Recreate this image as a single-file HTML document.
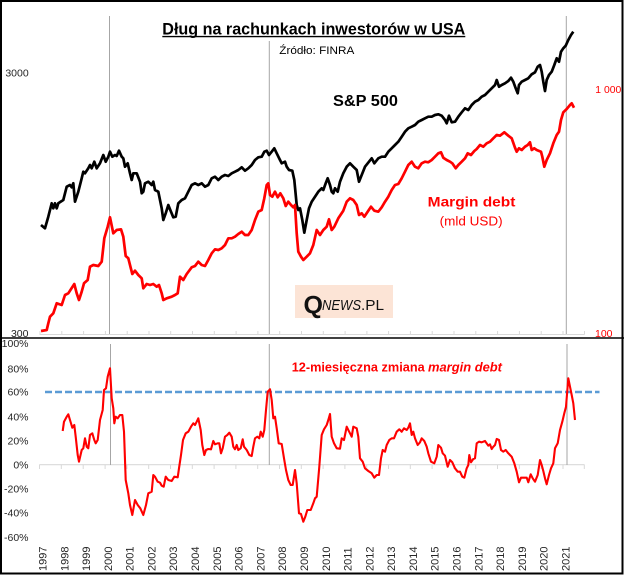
<!DOCTYPE html>
<html><head><meta charset="utf-8">
<style>
html,body{margin:0;padding:0;background:#fff;}
svg{display:block;}
text{font-family:"Liberation Sans",sans-serif;}
</style></head><body>
<svg width="624" height="575" viewBox="0 0 624 575" xmlns="http://www.w3.org/2000/svg">
<rect x="0" y="0" width="624" height="575" fill="#fff"/>
<rect x="1" y="1" width="621.5" height="572.5" fill="none" stroke="#000" stroke-width="2"/>
<line x1="0" y1="338" x2="624" y2="338" stroke="#000" stroke-width="1.6"/>

<!-- Top chart axis -->
<line x1="39.5" y1="334.5" x2="584.5" y2="334.5" stroke="#d9d9d9" stroke-width="1"/>
<g stroke="#d9d9d9" stroke-width="1">
<line x1="40" y1="331" x2="40" y2="334.5"/><line x1="61.8" y1="331" x2="61.8" y2="334.5"/><line x1="83.6" y1="331" x2="83.6" y2="334.5"/><line x1="105.4" y1="331" x2="105.4" y2="334.5"/><line x1="127.2" y1="331" x2="127.2" y2="334.5"/><line x1="149" y1="331" x2="149" y2="334.5"/><line x1="170.7" y1="331" x2="170.7" y2="334.5"/><line x1="192.5" y1="331" x2="192.5" y2="334.5"/><line x1="214.3" y1="331" x2="214.3" y2="334.5"/><line x1="236.1" y1="331" x2="236.1" y2="334.5"/><line x1="257.9" y1="331" x2="257.9" y2="334.5"/><line x1="279.7" y1="331" x2="279.7" y2="334.5"/><line x1="301.5" y1="331" x2="301.5" y2="334.5"/><line x1="323.3" y1="331" x2="323.3" y2="334.5"/><line x1="345.1" y1="331" x2="345.1" y2="334.5"/><line x1="366.9" y1="331" x2="366.9" y2="334.5"/><line x1="388.6" y1="331" x2="388.6" y2="334.5"/><line x1="410.4" y1="331" x2="410.4" y2="334.5"/><line x1="432.2" y1="331" x2="432.2" y2="334.5"/><line x1="454" y1="331" x2="454" y2="334.5"/><line x1="475.8" y1="331" x2="475.8" y2="334.5"/><line x1="497.6" y1="331" x2="497.6" y2="334.5"/><line x1="519.4" y1="331" x2="519.4" y2="334.5"/><line x1="541.2" y1="331" x2="541.2" y2="334.5"/><line x1="563" y1="331" x2="563" y2="334.5"/><line x1="584.5" y1="331" x2="584.5" y2="334.5"/>
</g>

<!-- vertical markers top -->
<g stroke="#a6a6a6" stroke-width="1">
<line x1="109.5" y1="16" x2="109.5" y2="334"/>
<line x1="269.3" y1="41" x2="269.3" y2="334"/>
<line x1="566.3" y1="16" x2="566.3" y2="334"/>
</g>

<!-- Title -->
<text x="162.3" y="34.5" font-size="16.5" font-weight="bold" fill="#000" textLength="303" lengthAdjust="spacingAndGlyphs">Dług na rachunkach inwestorów w USA</text>
<line x1="162.3" y1="36.6" x2="465.3" y2="36.6" stroke="#000" stroke-width="1.4"/>
<text x="279.3" y="54" font-size="11" fill="#000" textLength="75" lengthAdjust="spacingAndGlyphs">Źródło: FINRA</text>

<!-- axis labels top -->
<text x="28.7" y="76.5" font-size="10.5" fill="#262626" text-anchor="end">3000</text>
<text x="28.5" y="336.8" font-size="10.5" fill="#262626" text-anchor="end">300</text>
<text x="595.3" y="93" font-size="10.5" fill="#ff0000" textLength="26" lengthAdjust="spacingAndGlyphs">1 000</text>
<text x="595" y="337" font-size="10.5" fill="#ff0000">100</text>

<text x="333" y="106" font-size="16" font-weight="bold" fill="#000" textLength="65" lengthAdjust="spacingAndGlyphs">S&amp;P 500</text>
<text x="427.7" y="206.7" font-size="14" font-weight="bold" fill="#ff0000" textLength="87.7" lengthAdjust="spacingAndGlyphs">Margin  debt</text>
<text x="439.7" y="225.5" font-size="13" fill="#ff0000" textLength="63" lengthAdjust="spacingAndGlyphs">(mld USD)</text>

<!-- logo -->
<rect x="295" y="285" width="98" height="33" fill="#fce4d6"/>
<text x="303.5" y="313.5" font-family="Liberation Serif, serif" font-size="25" font-weight="bold" fill="#111">Q</text>
<text x="322" y="310" font-size="15" font-style="italic" fill="#111" textLength="39" lengthAdjust="spacingAndGlyphs">NEWS</text>
<text x="361" y="310" font-size="15" fill="#111" textLength="23" lengthAdjust="spacingAndGlyphs">.PL</text>

<!-- S&P 500 -->
<polyline fill="none" stroke="#000" stroke-width="2.7" stroke-linejoin="round" points="41,225 45,228.3 48.3,216.7 51.7,203.3 53.3,208.3 55,203.3 56.7,208.3 58.3,203.3 63.3,200 66.7,186.7 70,185 71.7,187.3 73.3,183.3 75,201.7 78.3,191.7 81.7,178.3 83.3,171.7 85,173.3 88.3,168.3 90,165 91.7,168.3 94.3,161.7 96.7,168.3 100,163.3 103.3,155 105.7,161.7 108.3,156.7 110,151.7 112.3,156.7 115,155 116.7,156 119,150.7 121.7,156.7 123.3,158.3 125,166.7 127.7,163.3 130,173.3 131.7,180 133.3,173.3 136.7,173.3 140,181.7 141.7,193.3 143.3,191.7 145,183.3 148.3,181.7 151.7,185 153.3,181.7 155,190 158.3,191.7 161.7,208.3 163.3,220 165.7,213.3 168.3,205 171,211.7 173.3,217.3 175.7,216.7 178.3,203.3 181.7,200 185,198.3 188.3,191.7 191.7,185 195,183.3 198.3,185 201.7,183.3 205,186.7 208.3,185 211.7,178.3 215,176.7 218.3,180 221.7,176.7 225,175 228.3,176 231.7,173.3 235,171.7 238.3,170 241.7,167.3 245,170.7 248.3,168.3 251.7,165 255,160 258.3,157.3 261.7,156.7 264.3,151.7 266.7,150.7 269,155 271.7,151.7 274.3,148.3 276.7,153.3 280,160 281.7,163.3 285,161.7 286.7,166.7 289,170 292.3,170.7 294.3,180 296.7,205 298.3,210 300,208.3 302.3,220 304.3,232.7 306.7,220 309,208.3 311.7,201.7 315,196.7 318.3,191.7 321.7,188.3 323.3,190 325.7,183.3 327.7,178.3 330,185 331.7,191.7 333.3,193.3 335,188.3 337.7,191.7 340,181.7 343.3,173.3 346.7,166.7 350,163.3 353.3,166.7 356.7,170 359,181.7 361.7,175 365,166.7 369,161.7 371.7,158.3 374.3,163.3 378.3,158.3 381.7,156.7 385,156.7 388.3,151.7 391.7,148.3 395,145 398.3,141.7 401.7,136.7 405,131.7 408.3,128.3 411.7,126.7 415,125 418.3,121.7 421.7,120 425,118.3 428.3,116.7 431.7,116.7 435,115 438.3,114.3 441.7,115.7 445,120 446.7,123.3 449,115.7 451.7,122.3 455,121.7 458.3,116.7 461.7,112.3 465,108.3 468.3,110 471.7,105 475,101.7 478.3,100 481.7,96.7 485,95 488.3,91.7 491.7,88.3 495,85 496.7,80 499,86.7 501.7,85 505,83.3 508.3,81 511,77.7 513.3,81.7 515.7,88.3 517.7,93.3 519,85 521.7,81.7 525,80 528.3,78.3 531.7,74.3 535,72.3 537.7,66.7 540,65 541.7,71.7 543.3,81.7 545,91 546.7,80 549,75 551.7,71.7 554.3,65 556.7,58.3 559,61.7 561,51.7 563.3,48.3 565.7,45.7 568.3,40 571,35 573.3,31.7"/>

<!-- Margin debt -->
<polyline fill="none" stroke="#ff0000" stroke-width="2.7" stroke-linejoin="round" points="41,331 46.7,330 48.3,323.3 50,316.7 53.3,313.3 56.7,303.3 61.7,305 65,295 68.3,293.3 74.3,284 76.7,293.3 79,300 81.7,291.7 84,283.3 87.7,280 90,266.7 93.3,265 98.3,266 101.7,261.7 104.3,238.3 107.7,226.7 110,217.3 113.3,233.3 116.7,230 121,229.3 123.3,236.7 125.7,256 128.3,258.3 132.3,274 135,270.7 138.3,275 141.7,278.3 143.3,288.3 146.7,284 150,285 153.3,284 156.7,286.7 159,285 161.7,293.3 163.3,300 166.7,298.3 171.7,296.7 175,295 177.7,293.3 180,276.7 183.3,280 186.7,274 191.7,267.3 195,266 198.3,261.7 201.7,265 205,266 208.3,260 211.7,253.3 215,249.3 218.3,250 221.7,248.3 225,245 228.3,238.3 231.7,238.3 235,236.7 238.3,234 241.7,231.7 245,235 248.3,235 251.7,230 255,220 258.3,211.7 261.7,210 264.3,198.3 266.7,185 268.3,183.3 270,195 272.3,196.7 275,191.7 277.7,197.3 280.3,193.3 283.3,198.3 285.7,206 288.3,201.7 291,205 293.3,207.3 295,205 296.7,233.3 298.3,251.7 301,256.7 303.3,260 306.7,256.7 310,253.3 313.3,245 316.7,230 320,235 323.3,230 326.7,226.7 329,219.3 331.7,230 334.3,226.7 338.3,218.3 343.3,210.7 346.7,201.7 350,198.3 353.3,200 356.7,205 359,215 361.7,213.3 364.3,216.7 368.3,210.7 371,206.7 374.3,210.7 378.3,211.7 381.7,207.3 385,201.7 388.3,196.7 391.7,190 395,185 398.3,184 401.7,178.3 405,171.7 408.3,165 411.7,161.7 415,166.7 418.3,168.3 421.7,163.3 425,161.7 428.3,162.3 431.7,160 435,156.7 438.3,153.3 441,152.3 443.3,157.7 446.7,160 450,161.7 452.3,163.3 455.7,168.3 458.3,165 461.7,161.7 465,158.3 467.7,153.3 471,155 474.3,151 476.7,149 480,145 483.3,146.7 486.7,143.3 490,141.7 493.3,138.3 496.7,135 500,135.7 504.3,132.3 508.3,135.7 511.7,138.3 515,147.7 516.7,151.7 519,148.3 521.7,150 525,146.7 527.7,145 530,142.3 531.7,150 534.3,148.3 536.7,150 541,151.7 542.3,156.7 544.3,166.7 546.7,160 550,153.3 553.3,143.3 556.7,135 559,131.7 561,120 563.3,112.3 566.7,109 570,105 571.7,103.3 574,107.7"/>

<!-- Bottom chart -->
<line x1="39.3" y1="464.7" x2="584.5" y2="464.7" stroke="#d9d9d9" stroke-width="1.2"/>
<g stroke="#d9d9d9" stroke-width="1">
<line x1="39.5" y1="464.7" x2="39.5" y2="469"/><line x1="61.3" y1="464.7" x2="61.3" y2="469"/><line x1="83.2" y1="464.7" x2="83.2" y2="469"/><line x1="105.1" y1="464.7" x2="105.1" y2="469"/><line x1="126.9" y1="464.7" x2="126.9" y2="469"/><line x1="148.7" y1="464.7" x2="148.7" y2="469"/><line x1="170.5" y1="464.7" x2="170.5" y2="469"/><line x1="192.3" y1="464.7" x2="192.3" y2="469"/><line x1="214.1" y1="464.7" x2="214.1" y2="469"/><line x1="235.9" y1="464.7" x2="235.9" y2="469"/><line x1="257.7" y1="464.7" x2="257.7" y2="469"/><line x1="279.5" y1="464.7" x2="279.5" y2="469"/><line x1="301.3" y1="464.7" x2="301.3" y2="469"/><line x1="323.1" y1="464.7" x2="323.1" y2="469"/><line x1="344.9" y1="464.7" x2="344.9" y2="469"/><line x1="366.7" y1="464.7" x2="366.7" y2="469"/><line x1="388.5" y1="464.7" x2="388.5" y2="469"/><line x1="410.3" y1="464.7" x2="410.3" y2="469"/><line x1="432.1" y1="464.7" x2="432.1" y2="469"/><line x1="453.9" y1="464.7" x2="453.9" y2="469"/><line x1="475.7" y1="464.7" x2="475.7" y2="469"/><line x1="497.5" y1="464.7" x2="497.5" y2="469"/><line x1="519.3" y1="464.7" x2="519.3" y2="469"/><line x1="541.1" y1="464.7" x2="541.1" y2="469"/><line x1="563" y1="464.7" x2="563" y2="469"/><line x1="584.3" y1="464.7" x2="584.3" y2="469"/>
</g>
<g stroke="#a6a6a6" stroke-width="1">
<line x1="110.5" y1="344" x2="110.5" y2="465"/>
<line x1="269.3" y1="344" x2="269.3" y2="465"/>
<line x1="567" y1="344" x2="567" y2="465"/>
</g>

<g font-size="10.5" fill="#262626" text-anchor="end">
<text x="28.5" y="347">100%</text>
<text x="28.5" y="372.4">80%</text>
<text x="28.5" y="395.7">60%</text>
<text x="28.5" y="420.4">40%</text>
<text x="28.5" y="444.4">20%</text>
<text x="28.5" y="468.4">0%</text>
<text x="28.5" y="492.4">-20%</text>
<text x="28.5" y="516.4">-40%</text>
<text x="28.5" y="541">-60%</text>
</g>

<line x1="45" y1="392" x2="599.5" y2="392" stroke="#5b9bd5" stroke-width="2.4" stroke-dasharray="7,3"/>

<text x="291.7" y="371.5" font-size="13" font-weight="bold" fill="#ff0000" textLength="133" lengthAdjust="spacingAndGlyphs">12-miesięczna zmiana</text>
<text x="428" y="371.5" font-size="13" font-weight="bold" font-style="italic" fill="#ff0000" textLength="74" lengthAdjust="spacingAndGlyphs">margin debt</text>

<polyline fill="none" stroke="#ff0000" stroke-width="2.1" stroke-linejoin="round" points="62.7,431 64,421.7 66.7,416.7 68.3,414.3 70,420 72.3,427.7 74.3,425 75.7,436.7 77.7,455 79,461.7 81.7,450 83.3,448.3 85,438.3 86.7,446.7 88.3,448.3 90,435 92.3,433.3 94.3,440 95.7,443.3 97.7,440 100,420 102.7,410 104,390 106,388.3 107.7,376.7 110,368.3 111.7,398.3 113.3,408.3 114.3,423.3 115.7,416.7 117.7,418.3 120,415 122.3,415 124,431.7 125.7,480 128.3,493.3 130,505 132.3,515 135,500 137.7,505 140.3,508.3 143.3,515 146,505 148.3,493.3 151.7,491.7 153.3,475 155,476.7 157.7,481.7 160,482.7 161.7,485.7 163.7,486.7 165.7,476.7 168.3,480 171.7,481 174.3,476.7 177.7,477.3 179,468.3 181,455 183,440 185.7,433.3 188.3,431.7 191,426.7 193.3,423.3 195,425 196.7,421.7 198.3,418.3 200.7,430 202.3,445 204.3,455 206,450 208.3,449 211,449.3 213.3,441 215,444.3 217.7,443.3 219.3,443.3 221,453.3 222.7,448.3 225,436.7 227.3,435 229.3,432.7 231.7,436.7 233.3,446.7 235,449.3 236.7,445 238.3,450 240.7,448.3 242.7,439.3 244,446.7 246.7,450 249.3,455 251.7,456 253.3,446.7 255,438.3 257.3,436.7 259.3,438.3 260.7,431.7 262.7,436.7 264.3,430 266,410 267.7,391.7 270,389.3 271.7,400 273.3,418.3 275,416.7 276.7,428.3 278.7,443.3 281.7,444 284,458.3 286,470 288.3,480 290.7,485 292.7,485 295,470 296.7,483.3 299,513.3 301,514 303.3,521.7 305.3,516.7 307.3,510 310.7,510 313.3,503.3 315,498.3 316.7,496.7 319.3,466.7 321.7,435 324,429.3 326.7,425 328.3,420 330,414 331.7,436.7 334,443.3 336.7,448.3 340,448.7 341.7,438.3 344,440 346.7,426.7 348.3,430 350,433.3 351.7,436.7 353.3,426.7 356.7,428.3 358.3,436.7 360,458.3 362.7,461.7 365,468.3 368.3,471 371.7,473.3 374.3,477.7 376.7,475 379,475 381,458.3 382.7,450 385,451.7 386.7,445 389.3,440 391.7,438.3 394,438.3 396.7,431.7 399.3,429.3 401.7,431.7 404,428.3 406.7,430 408.3,427.7 410,423.3 411.7,435 413.3,431.7 415,438.3 417.7,445 420,442.3 421.7,438.3 424.3,441 426.7,446.7 428.3,453.3 431,461.7 434.3,463.3 436.7,456.7 438.3,445 441,447.7 442.7,453.3 445,455.7 447.7,466.7 450,460 452.3,462.3 455,468.3 457.7,471.7 460,471.7 462.3,476.7 464.3,477.7 466.7,468.3 468.3,465 469.3,455 471,462.3 473.3,459 475,458.3 476.7,443.3 479,441.7 481.7,442.3 485,441 488.3,445.7 490,444.3 491.7,449 493.3,446.7 495,445 496.7,439 499,440 501,450 503.3,451.7 505.7,450 508.3,453.3 511.7,456.7 514.3,463.3 516.7,471.7 519,482.3 521,477.7 524.3,477.7 526.7,477.7 528.3,482.3 530.7,474.3 532.7,478.3 535,481.7 537.7,475 540,460 541.7,465 543.3,471 545,478.3 546.7,484.3 549,475 551,468.3 553.3,463.3 555,448.3 557.7,443.3 560,430 562.3,421.7 564.3,413.3 566,406.7 568.3,378.3 570,386.7 571.7,395 573.3,403.3 575,420"/>

<!-- year labels -->
<g font-size="11" fill="#262626">
<text transform="translate(46.5,571) rotate(-90)">1997</text>
<text transform="translate(68.3,571) rotate(-90)">1998</text>
<text transform="translate(90.1,571) rotate(-90)">1999</text>
<text transform="translate(111.9,571) rotate(-90)">2000</text>
<text transform="translate(133.7,571) rotate(-90)">2001</text>
<text transform="translate(155.5,571) rotate(-90)">2002</text>
<text transform="translate(177.2,571) rotate(-90)">2003</text>
<text transform="translate(199,571) rotate(-90)">2004</text>
<text transform="translate(220.8,571) rotate(-90)">2005</text>
<text transform="translate(242.6,571) rotate(-90)">2006</text>
<text transform="translate(264.4,571) rotate(-90)">2007</text>
<text transform="translate(286.2,571) rotate(-90)">2008</text>
<text transform="translate(308,571) rotate(-90)">2009</text>
<text transform="translate(329.8,571) rotate(-90)">2010</text>
<text transform="translate(351.6,571) rotate(-90)">2011</text>
<text transform="translate(373.4,571) rotate(-90)">2012</text>
<text transform="translate(395.1,571) rotate(-90)">2013</text>
<text transform="translate(416.9,571) rotate(-90)">2014</text>
<text transform="translate(438.7,571) rotate(-90)">2015</text>
<text transform="translate(460.5,571) rotate(-90)">2016</text>
<text transform="translate(482.3,571) rotate(-90)">2017</text>
<text transform="translate(504.1,571) rotate(-90)">2018</text>
<text transform="translate(525.9,571) rotate(-90)">2019</text>
<text transform="translate(547.7,571) rotate(-90)">2020</text>
<text transform="translate(569.5,571) rotate(-90)">2021</text>
</g>
</svg>
</body></html>
